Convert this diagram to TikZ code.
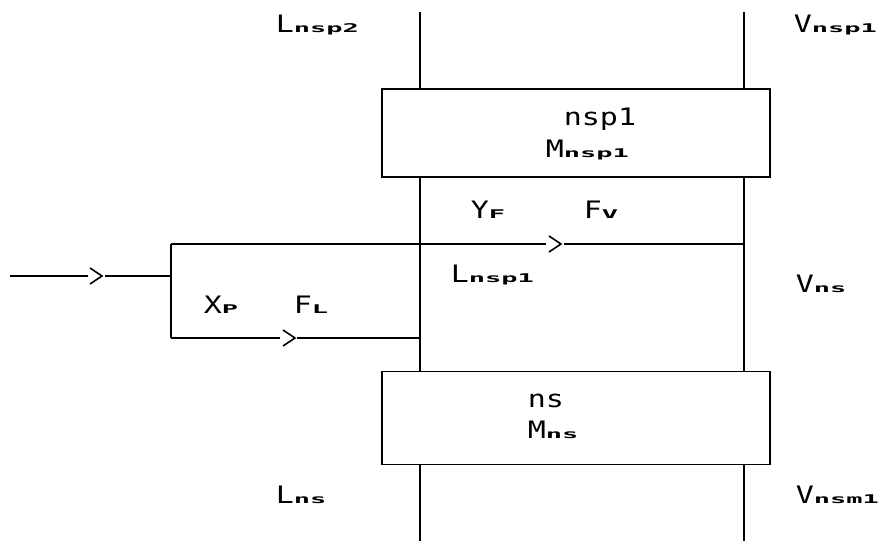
\documentclass[tikz,border=0pt]{standalone}
\usepackage{fontspec}
\setmainfont{DejaVu Sans Mono}[FakeStretch=1.25]
\usepackage{graphicx}
\newcommand{\sbs}[1]{\scalebox{0.9}[0.5]{\bfseries #1}}
\tikzset{
  stage/.style={draw, rectangle, minimum width=388pt, inner sep=0pt},
  lbl/.style={anchor=base west, inner sep=0pt},
  chevron/.style={line width=1.6pt}
}
\newcommand{\chev}[2]{\draw[chevron] ({#1},{#2-8}) -- ({#1+12},{#2}) -- ({#1},{#2+8});}
\begin{document}
\begin{tikzpicture}[x=1pt,y=-1pt,font=\fontsize{24}{28}\selectfont,line width=1.7pt]
\useasboundingbox (0,0) rectangle (886,541);
% stage boxes
\node[stage, minimum height=88pt] (top) at (576,133) {};
\node[stage, minimum height=93pt] (bot) at (576,418) {};
% column coordinates
\coordinate (LT) at (420,12);
\coordinate (RT) at (744,12);
\coordinate (LB) at (420,541);
\coordinate (RB) at (744,541);
\draw (LT) -- (LT |- top.north);
\draw (RT) -- (RT |- top.north);
\draw (LT |- top.south) -- (LT |- bot.north);
\draw (RT |- top.south) -- (RT |- bot.north);
\draw (LB |- bot.south) -- (LB);
\draw (RB |- bot.south) -- (RB);
% feed
\coordinate (in0) at (10,276);
\coordinate (inA) at (88,276);
\coordinate (inB) at (105,276);
\coordinate (fl) at (171,276);
\coordinate (ftl) at (171,244);
\coordinate (fbl) at (171,338);
\coordinate (vA) at (546,244);
\coordinate (vB) at (564,244);
\coordinate (vR) at (744,244);
\coordinate (lA) at (280,338);
\coordinate (lB) at (297,338);
\coordinate (lR) at (420,338);
\draw (in0) -- (inA);
\draw (inB) -- (fl);
\chev{90}{276}
\draw (ftl) -- (fbl);
\draw (ftl) -- (vA);
\draw (vB) -- (vR);
\chev{549}{244}
\draw (fbl) -- (lA);
\draw (lB) -- (lR);
\chev{283}{338}
% labels
\node[lbl] (l1) at (275,32) {L\sbs{nsp2}};
\node[lbl] (l2) at (793,32) {V\sbs{nsp1}};
\node[lbl] (l3) at (563,125) {nsp1};
\node[lbl] (l4) at (545,157) {M\sbs{nsp1}};
\node[lbl] (l5) at (470,218) {Y\sbs{F}};
\node[lbl] (l6) at (583,218) {F\sbs{V}};
\node[lbl] (l7) at (450,282) {L\sbs{nsp1}};
\node[lbl] (l8) at (795,292) {V\sbs{ns}};
\node[lbl] (l9) at (203,313) {X\sbs{P}};
\node[lbl] (l10) at (293,313) {F\sbs{L}};
\node[lbl] (l11) at (527,407) {ns};
\node[lbl] (l12) at (527,438) {M\sbs{ns}};
\node[lbl] (l13) at (275,503) {L\sbs{ns}};
\node[lbl] (l14) at (795,503) {V\sbs{nsm1}};
\end{tikzpicture}
\end{document}
